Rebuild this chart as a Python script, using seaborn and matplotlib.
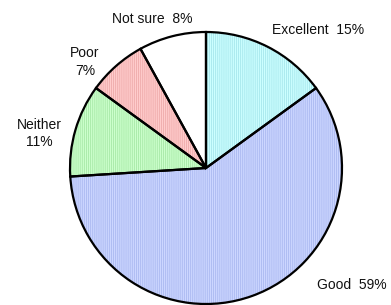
import matplotlib
matplotlib.use("Agg")
import matplotlib.pyplot as plt
import seaborn as sns

# data
categories = ["Excellent", "Good", "Neither", "Poor", "Not sure"]
shares = [15, 59, 11, 7, 8]
labels = ["Excellent  15%", "Good  59%", "Neither\n11%", "Poor\n7%", "Not sure  8%"]

face_colors = ["#ccffff", "#ccd6ff", "#ccffcc", "#ffcccc", "#ffffff"]
hatch_colors = ["#a6e6ec", "#aab8f0", "#a6e8a6", "#eeaaaa", "#ffffff"]

sns.set_style("white")
plt.rcParams["font.family"] = ["Liberation Sans", "DejaVu Sans"]
plt.rcParams["hatch.linewidth"] = 0.6

fig = plt.figure(figsize=(3.91, 3.05), dpi=100)
cx, cy, r = 206, 168, 136
ax = fig.add_axes([(cx - r) / 391, (305 - cy - r) / 305, 2 * r / 391, 2 * r / 305])

# filled wedges with fine vertical hatching
wedges, _ = ax.pie(shares, colors=face_colors, startangle=90, counterclock=False,
                   wedgeprops=dict(linewidth=0))
for w, hc in zip(wedges, hatch_colors):
    if hc != "#ffffff":
        w.set_hatch("||||||||")
        w.set_edgecolor(hc)

# black outlines on top
ax.pie(shares, colors=["none"] * len(shares), startangle=90, counterclock=False,
       wedgeprops=dict(linewidth=1.6, edgecolor="black", fill=False))

# label positions (data units, radius = 1)
label_pos = [(0.824, 1.018), (1.074, -0.860), (-1.228, 0.254), (-0.890, 0.779), (-0.397, 1.092)]
for lab, (x, y) in zip(labels, label_pos):
    ax.text(x, y, lab, ha="center", va="center", fontsize=10, linespacing=1.35, color="#111111")

ax.set_xlim(-1, 1)
ax.set_ylim(-1, 1)
ax.set_aspect("auto")
ax.axis("off")

fig.savefig("out.png", dpi=100)
